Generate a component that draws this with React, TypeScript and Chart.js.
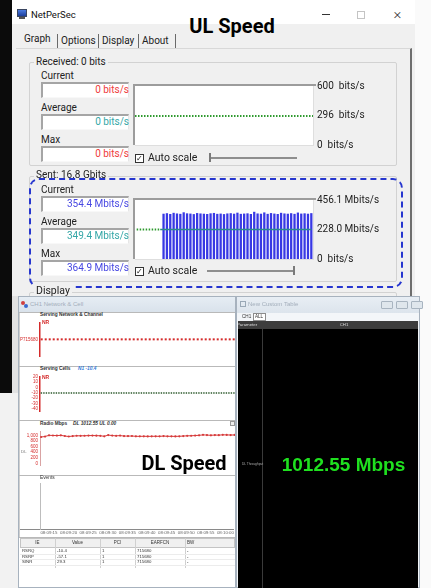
import React, { useEffect, useRef } from 'react';
import { Chart, registerables } from 'chart.js';

Chart.register(...registerables);

// ---------------- data ----------------
// NetPerSec – Received graph
const receivedTickValues = [0, 296, 600];
const receivedTickLabels = ['0  bits/s', '296  bits/s', '600  bits/s'];
const receivedAverageAt = [0, 52];
const receivedAverage = [296, 296];

// NetPerSec – Sent graph (Mbits/s per sample, idle samples first)
const sentMbps = [
  0, 0, 0, 0, 0, 0, 0, 0,
  350, 354, 348, 357, 352, 349, 361, 353, 351, 347,
  355, 352, 350, 348, 353, 356, 349, 351, 347, 352,
  354, 350, 358, 349, 351, 353, 348, 364.9, 352, 350,
  360, 349, 355, 351, 348, 357, 352, 350, 354, 349,
  359, 351, 353, 350, 354.4,
];
const sentTickValues = [0, 228.0, 456.1];
const sentTickLabels = ['0  bits/s', '228.0 Mbits/s', '456.1 Mbits/s'];
const sentAverageAt = [0, 7, 52];
const sentAverage = [228.0, 228.0, 228.0];

// Network & Cell – time axis (seconds after 08:09:00)
const timeRange = [12.72, 62.1];
const timeTickSeconds = [15, 20, 25, 30, 35, 40, 45, 50, 55, 60];
const timeTickLabels = ['08:09:15', '08:09:20', '08:09:25', '08:09:30', '08:09:35', '08:09:40', '08:09:45', '08:09:50', '08:09:55', '08:10:00'];

// Serving Network & Channel
const channelLabel = 'P715680';
const channelSeconds = [12.9, 62.1];
const channelLevel = [0, 0];

// Serving Cells (RSRQ)
const cellTickValues = [20, 10, 0, -10, -20, -30, -40];
const cellSeconds = [12.9, 62.1];
const cellRsrq = [-10.4, -10.4];

// Radio Mbps (DL)
const radioTickValues = [0, 200, 400, 600, 800, 1000];
const radioTickLabels = ['0', '200', '400', '600', '800', '1,000'];
const radioSeconds = [
  13, 14, 15, 16, 17, 18, 19, 20, 21, 22,
  23, 24, 25, 26, 27, 28, 29, 30, 31, 32,
  33, 34, 35, 36, 37, 38, 39, 40, 41, 42,
  43, 44, 45, 46, 47, 48, 49, 50, 51, 52,
  53, 54, 55, 56, 57, 58, 59, 60, 61, 62,
];
const radioDlMbps = [
  940, 957, 1001, 994, 990, 999, 975, 958, 972, 984,
  982, 985, 990, 992, 989, 983, 966, 1008, 991, 981,
  990, 974, 972, 975, 965, 963, 966, 962, 964, 966,
  963, 973, 965, 964, 962, 966, 974, 982, 984, 992,
  1000, 1016, 1008, 1001, 1009, 1006, 1017, 1015, 1010, 1012.55,
];

const eventsLog: { x: number; y: number }[] = [];

// Table
const tableHeaders = ['IE', 'Value', 'PCI', 'EARFCN', 'BW'];
const tableRows = [
  ['RSRQ', '-10.4', '1', '715680', '-'],
  ['RSRP', '-57.1', '1', '715680', '-'],
  ['SINR', '29.3', '1', '715680', '-'],
];

// ---------------- helpers ----------------
const W = 431;
const H = 588;
const UI = "Roboto, 'Noto Sans', sans-serif";
const SM = "'Liberation Sans', Arial, sans-serif";
Chart.defaults.font.family = SM;

const sampleIdx = sentMbps.map((_, i) => i);

const fixW = (w: number) => (s: any) => { s.width = w; };
const fixH = (h: number) => (s: any) => { s.height = h; };
const setTicks = (vals: number[]) => (s: any) => { s.ticks = vals.map((v) => ({ value: v })); };
const pts = (xs: number[], ys: number[]) => xs.map((x, i) => ({ x, y: ys[i] }));

const sunkenBox = {
  id: 'sunkenBox',
  beforeDatasetsDraw(chart: any) {
    const { ctx, chartArea: a } = chart;
    ctx.save();
    ctx.fillStyle = '#ffffff';
    ctx.fillRect(a.left, a.top, a.right - a.left, a.bottom - a.top);
    ctx.restore();
  },
  afterDatasetsDraw(chart: any) {
    const { ctx, chartArea: a } = chart;
    ctx.save();
    ctx.fillStyle = '#9c9c9c';
    ctx.fillRect(a.left - 2, a.top - 2, a.right - a.left + 5, 2);
    ctx.fillRect(a.left - 2, a.top - 2, 2, a.bottom - a.top + 2);
    ctx.fillStyle = '#dedede';
    ctx.fillRect(a.left, a.bottom, a.right - a.left + 1, 1);
    ctx.fillRect(a.right, a.top, 1, a.bottom - a.top);
    ctx.restore();
  },
};

const noHover = { legend: { display: false }, tooltip: { enabled: false } };

function ChartCanvas({ left, top, width, height, make }: { left: number; top: number; width: number; height: number; make: () => any }) {
  const ref = useRef<HTMLCanvasElement>(null);
  useEffect(() => {
    const chart = new Chart(ref.current as HTMLCanvasElement, make());
    return () => chart.destroy();
  }, []);
  return <canvas ref={ref} width={width} height={height} style={{ position: 'absolute', left, top, width, height }} />;
}

type TP = { x: number; y: number; s: number; c?: string; w?: number; f?: string; a?: 'left' | 'right' | 'center'; i?: boolean; bg?: string; children: React.ReactNode; pad?: string };
function T({ x, y, s, c = '#222', w = 400, f = UI, a = 'left', i, bg, children, pad }: TP) {
  const st: React.CSSProperties = {
    position: 'absolute', top: y - s * 0.62, fontSize: s, lineHeight: `${s * 1.24}px`, color: c, fontWeight: w,
    fontFamily: f, whiteSpace: 'nowrap', fontStyle: i ? 'italic' : 'normal', background: bg, padding: pad,
  };
  if (a === 'left') st.left = x;
  else if (a === 'right') st.right = W - x;
  else { st.left = x - 150; st.width = 300; st.textAlign = 'center'; }
  return <div style={st}>{children}</div>;
}

function R({ x, y, w, h, bg, st }: { x: number; y: number; w: number; h: number; bg?: string; st?: React.CSSProperties }) {
  return <div style={{ position: 'absolute', left: x, top: y, width: w, height: h, background: bg, boxSizing: 'border-box', ...st }} />;
}

const sunkenField: React.CSSProperties = {
  borderTop: '2px solid #a5a5a5', borderLeft: '2px solid #a5a5a5', borderRight: '1px solid #e6e6e6', borderBottom: '1px solid #f8f8f8',
};

// ---------------- chart configs ----------------
const netPerSecScales = (max: number, vals: number[], labels: string[], offset: boolean) => ({
  x: { display: false, offset },
  y: {
    position: 'right', min: 0, max,
    afterBuildTicks: setTicks(vals), afterFit: fixW(89),
    grid: { display: false, drawTicks: false }, border: { display: false },
    ticks: { padding: 4, autoSkip: false, color: '#222', font: { family: UI, size: 10 }, callback: (v: number) => labels[vals.indexOf(v)] },
  },
});

const receivedConfig = () => ({
  type: 'line',
  data: {
    labels: sampleIdx,
    datasets: [{ data: pts(receivedAverageAt, receivedAverage), borderColor: '#2e9a2e', borderWidth: 2, borderDash: [1.5, 1.5], pointRadius: 0 }],
  },
  options: {
    animation: false, responsive: false, events: [],
    layout: { padding: { left: 3, top: 7, bottom: 8, right: 0 }, autoPadding: false },
    plugins: noHover,
    scales: netPerSecScales(600, receivedTickValues, receivedTickLabels, false),
  },
  plugins: [sunkenBox],
});

const sentConfig = () => ({
  type: 'bar',
  data: {
    labels: sampleIdx,
    datasets: [
      {
        type: 'line', order: 0, data: pts(sentAverageAt, sentAverage), borderColor: '#2a8a8a', borderWidth: 1.5, pointRadius: 0,
        segment: {
          borderColor: (ctx: any) => (ctx.p0DataIndex === 0 ? '#2e9a2e' : '#2a8a8a'),
          borderDash: (ctx: any) => (ctx.p0DataIndex === 0 ? [1.5, 1.5] : []),
          borderWidth: (ctx: any) => (ctx.p0DataIndex === 0 ? 2 : 1.5),
        },
      },
      { type: 'bar', order: 1, data: sentMbps, backgroundColor: '#3838e4', borderWidth: 0, barPercentage: 0.68, categoryPercentage: 1 },
    ],
  },
  options: {
    animation: false, responsive: false, events: [],
    layout: { padding: { left: 3, top: 7, bottom: 7, right: 0 }, autoPadding: false },
    plugins: noHover,
    scales: netPerSecScales(456.1, sentTickValues, sentTickLabels, true),
  },
  plugins: [sunkenBox],
});

const timeX = (display: boolean) => ({
  type: 'linear', min: timeRange[0], max: timeRange[1], display,
  afterBuildTicks: setTicks(timeTickSeconds), afterFit: fixH(9),
  grid: { display: false, drawTicks: false },
  border: { display: true, color: '#8a8a8a', width: 1 },
  ticks: {
    padding: 1, autoSkip: false, maxRotation: 0, color: '#666', font: { size: 4.4 },
    callback: (v: number) => timeTickLabels[timeTickSeconds.indexOf(v)],
  },
});

const leftY = (min: number, max: number, vals: number[], labels: string[] | null, border: string, bw: number) => ({
  position: 'left', min, max,
  afterBuildTicks: setTicks(vals), afterFit: fixW(21),
  grid: { display: false, drawTicks: false },
  border: { display: true, color: border, width: bw },
  ticks: {
    display: labels !== null, padding: 2, autoSkip: false, color: '#d42a2a', font: { size: 4.5 },
    callback: (v: number) => (labels ? labels[vals.indexOf(v)] : ''),
  },
});

const baseOpts = (top: number, bottom: number, scales: any) => ({
  animation: false, responsive: false, events: [],
  layout: { padding: { left: 0, top, bottom, right: 0 }, autoPadding: false },
  plugins: noHover,
  scales,
});

const channelConfig = () => ({
  type: 'line',
  data: { datasets: [{ data: pts(channelSeconds, channelLevel), borderColor: '#d42a2a', borderWidth: 2, borderDash: [2, 2], pointRadius: 0 }] },
  options: baseOpts(1, 1, { x: timeX(false), y: leftY(-1, 1, [0], [channelLabel], '#d42a2a', 1.5) }),
});

const cellsConfig = () => ({
  type: 'line',
  data: { datasets: [{ data: pts(cellSeconds, cellRsrq), borderColor: '#2d5a2d', borderWidth: 1.6, borderDash: [1.4, 1.1], pointRadius: 0 }] },
  options: baseOpts(2, 1, { x: timeX(false), y: leftY(-44.2, 20, cellTickValues, cellTickValues.map(String), '#d42a2a', 1.5) }),
});

const radioConfig = () => ({
  type: 'line',
  data: {
    datasets: [{
      data: pts(radioSeconds, radioDlMbps), borderColor: '#d63a3a', borderWidth: 1, pointRadius: 1.1,
      pointBackgroundColor: '#d63a3a', pointBorderWidth: 0,
    }],
  },
  options: baseOpts(1, 0, { x: timeX(false), y: leftY(-51, 1128, radioTickValues, radioTickLabels, '#d9a3a3', 1) }),
});

const eventsConfig = () => ({
  type: 'line',
  data: { datasets: [{ data: eventsLog, borderColor: '#888', pointRadius: 0 }] },
  options: baseOpts(2, 0, { x: timeX(true), y: leftY(0, 1, [], null, '#bdbdbd', 1) }),
});

// ---------------- scene ----------------
function FieldRow({ y, label, value, color }: { y: number; label: string; value: string; color: string }) {
  return (
    <>
      <T x={41} y={y} s={10}>{label}</T>
      <R x={41} y={y + 6} w={88} h={16} bg="#fff" st={sunkenField} />
      <T x={129} y={y + 14} s={10} c={color} a="right">{value}</T>
    </>
  );
}

function Check({ y }: { y: number }) {
  return (
    <>
      <R x={135} y={y - 4} w={9} h={9} bg="#fff" st={{ border: '1px solid #333' }} />
      <T x={136} y={y + 0.5} s={8} w={700} c="#111" f="'DejaVu Sans', sans-serif">✓</T>
      <T x={148} y={y} s={10.5}>Auto scale</T>
    </>
  );
}

export default function App() {
  const red = '#ef3b3b';
  const teal = '#34a7a7';
  const blue = '#4848e2';
  const cols = [20, 55, 100, 135, 185, 235];
  return (
    <div style={{ position: 'fixed', left: 0, top: 0, width: W, height: H, overflow: 'hidden', background: '#f6f6f6' }}>
      {/* backdrop */}
      <R x={0} y={0} w={12} h={393} bg="#0b0b0b" />
      <R x={0} y={393} w={18} h={195} bg="#f2f2f2" />
      <R x={415} y={0} w={16} h={588} bg="#fafafa" />

      {/* NetPerSec window */}
      <R x={12} y={0} w={403} h={298} bg="#f0f0f0" />
      <R x={12} y={0} w={403} h={24} bg="#ffffff" />
      <R x={17} y={9} w={10} h={8} bg="linear-gradient(#4a7be0,#1d3f9c)" st={{ border: '1px solid #3a4660' }} />
      <R x={19} y={17} w={6} h={2} bg="#555" />
      <T x={31} y={15} s={9.5} c="#111">NetPerSec</T>
      <R x={322} y={14} w={8} h={1} bg="#333" />
      <R x={357} y={11} w={8} h={8} st={{ border: '1px solid #c4c4c4' }} />
      <T x={397.5} y={14} s={15} c="#333" a="center" w={300}>×</T>
      <T x={232} y={26} s={20} w={700} c="#000" a="center">UL Speed</T>

      {/* tabs */}
      <T x={24} y={39} s={10}>Graph</T>
      <T x={61} y={41} s={10}>Options</T>
      <T x={102} y={41} s={10}>Display</T>
      <T x={142} y={41} s={10}>About</T>
      {[57, 98, 138, 175].map((x) => <R key={x} x={x} y={34} w={1} h={14} bg="#6a6a6a" />)}
      <R x={16} y={48} w={396} h={250} st={{ borderTop: '1px solid #d8d8d8', borderRight: '2px solid #6e6e6e' }} />

      {/* Received group */}
      <R x={29} y={62} w={368} h={104} st={{ border: '1px solid #d2d2d2', borderRadius: 2 }} />
      <T x={34} y={62} s={10} bg="#f0f0f0" pad="0 2px">Received: 0  bits</T>
      <FieldRow y={76} label="Current" value="0  bits/s" color={red} />
      <FieldRow y={108} label="Average" value="0  bits/s" color={teal} />
      <FieldRow y={140} label="Max" value="0  bits/s" color={red} />
      <ChartCanvas left={132} top={76} width={270} height={79} make={receivedConfig} />
      <Check y={158} />
      <R x={210} y={157} w={87} h={2} bg="#8e8e8e" />
      <R x={209} y={153} w={2} h={9} bg="#7a7a7a" />

      {/* Sent group */}
      <R x={29} y={176} w={368} h={106} st={{ border: '1px solid #d2d2d2', borderRadius: 2 }} />
      <T x={34} y={175} s={10} bg="#f0f0f0" pad="0 2px">Sent: 16.8 Gbits</T>
      <FieldRow y={190} label="Current" value="354.4 Mbits/s" color={blue} />
      <FieldRow y={222} label="Average" value="349.4 Mbits/s" color={teal} />
      <FieldRow y={254} label="Max" value="364.9 Mbits/s" color={blue} />
      <ChartCanvas left={132} top={190} width={270} height={79} make={sentConfig} />
      <Check y={271} />
      <R x={207} y={270} w={87} h={2} bg="#8e8e8e" />
      <R x={293} y={266} w={2} h={9} bg="#7a7a7a" />
      <R x={29} y={178} w={374} h={110} st={{ border: '2px dashed #2636cf', borderRadius: 10 }} />

      {/* Display group */}
      <R x={29} y={292} w={368} h={30} st={{ border: '1px solid #d2d2d2', borderRadius: 2 }} />
      <T x={34} y={291} s={10.5} bg="#f0f0f0" pad="0 2px">Display</T>

      {/* Network & Cell window */}
      <R x={12} y={296} w={6} h={97} bg="#e2e2e2" />
      <R x={18} y={296} w={218} h={292} bg="#ffffff" st={{ border: '1px solid #a7b2be' }} />
      <R x={19} y={297} w={216} h={15} bg="linear-gradient(#e6edf4,#d9e2eb)" />
      <R x={21} y={301} w={4} h={4} bg="#d04040" st={{ borderRadius: 2 }} />
      <R x={24} y={304} w={4} h={4} bg="#3a6ad0" st={{ borderRadius: 2 }} />
      <T x={30} y={305} s={6} c="#a3aebb" f={SM}>CH1 Network &amp; Cell</T>
      <R x={19} y={312} w={1} h={226} bg="#cfcfcf" />
      {[312, 366, 420, 475, 537].map((y) => <R key={y} x={19} y={y} w={216} h={1} bg="#b9b9b9" />)}

      <T x={40} y={315} s={4.8} w={700} c="#333" f={SM}>Serving Network &amp; Channel</T>
      <ChartCanvas left={19} top={318} width={216} height={48} make={channelConfig} />
      <T x={42} y={322.5} s={5} w={700} c="#d42a2a" f={SM}>NR</T>

      <T x={40} y={369} s={4.8} w={700} c="#333" f={SM}>Serving Cells</T>
      <T x={78} y={369} s={4.8} w={700} c="#2f7ad8" f={SM} i>N1 -10.4</T>
      <ChartCanvas left={19} top={372} width={216} height={49} make={cellsConfig} />
      <T x={42} y={377} s={5} w={700} c="#d42a2a" f={SM}>NR</T>

      <T x={40} y={423.5} s={4.8} w={700} c="#333" f={SM}>Radio Mbps</T>
      <T x={73} y={423.5} s={4.8} w={700} c="#333" f={SM} i>DL 1012.55 UL 0.00</T>
      <R x={230} y={421} w={5} h={5} bg="#eee" st={{ border: '1px solid #999' }} />
      <ChartCanvas left={19} top={427} width={216} height={47} make={radioConfig} />
      <T x={21} y={451.5} s={4.4} c="#777" f={SM}>DL</T>
      <T x={184} y={463} s={20} w={700} c="#000" a="center">DL Speed</T>

      <T x={40} y={478} s={4.8} c="#333" f={SM}>Events</T>
      <ChartCanvas left={19} top={481} width={216} height={57} make={eventsConfig} />
      <R x={20} y={529} w={20} h={1} bg="#8a8a8a" />

      {/* table */}
      <R x={20} y={538} w={215} h={10} bg="#f0f0f0" st={{ border: '1px solid #c4c4c4' }} />
      {cols.slice(1, 5).map((x) => <R key={x} x={x} y={538} w={1} h={30} bg="#d0d0d0" />)}
      {[553.5, 559, 564.5].map((y) => <R key={y} x={20} y={y} w={215} h={1} bg="#ececec" />)}
      {tableHeaders.map((h, i) => (
        i < 4
          ? <T key={h} x={(cols[i] + cols[i + 1]) / 2} y={543} s={4.5} c="#333" f={SM} a="center">{h}</T>
          : <T key={h} x={cols[i] + 2} y={543} s={4.5} c="#333" f={SM}>{h}</T>
      ))}
      {tableRows.map((row, r) => row.map((cell, i) => (
        <T key={`${r}-${i}`} x={cols[i] + 2} y={551 + r * 5.5} s={4.3} c="#333" f={SM}>{cell}</T>
      )))}

      {/* New Custom Table window */}
      <R x={236} y={296} w={184} h={292} bg="#f3f6f9" st={{ border: '1px solid #a7b2be' }} />
      <R x={237} y={297} w={182} h={16} bg="linear-gradient(#e8eef4,#dce4ec)" />
      <R x={240} y={301} w={6} h={6} st={{ border: '1px solid #9aa8b6' }} />
      <T x={248} y={305} s={6} c="#a3aebb" f={SM}>New Custom Table</T>
      {[381, 396, 411].map((x) => <R key={x} x={x} y={301} w={12} h={8} bg="#dfe6ec" st={{ border: '1px solid #a8b4c0', borderRadius: 1 }} />)}
      <T x={242} y={317} s={4.6} c="#333" f={SM}>CH1</T>
      <R x={253} y={313} w={13} h={8} bg="#fff" st={{ border: '1px solid #8c8c8c' }} />
      <T x={255} y={317} s={4.6} c="#333" f={SM}>ALL</T>
      <div style={{ position: 'absolute', left: 238, top: 321, width: 180, height: 267, background: '#000', overflow: 'hidden' }}>
        <R x={0} y={0} w={180} h={8} bg="#3d3d3d" />
        <T x={-1} y={4} s={4.3} c="#ddd" f={SM}>Parameter</T>
        <T x={106} y={4} s={4.3} c="#ddd" f={SM} a="center">CH1</T>
        <R x={24} y={8} w={1} h={259} bg="#3a3a3a" />
      </div>
      <T x={242} y={465} s={3.2} c="#aaa" f={SM}>DL Throughput</T>
      <T x={343.5} y={465} s={19} w={700} c="#1fe01f" f={SM} a="center">1012.55 Mbps</T>
    </div>
  );
}
